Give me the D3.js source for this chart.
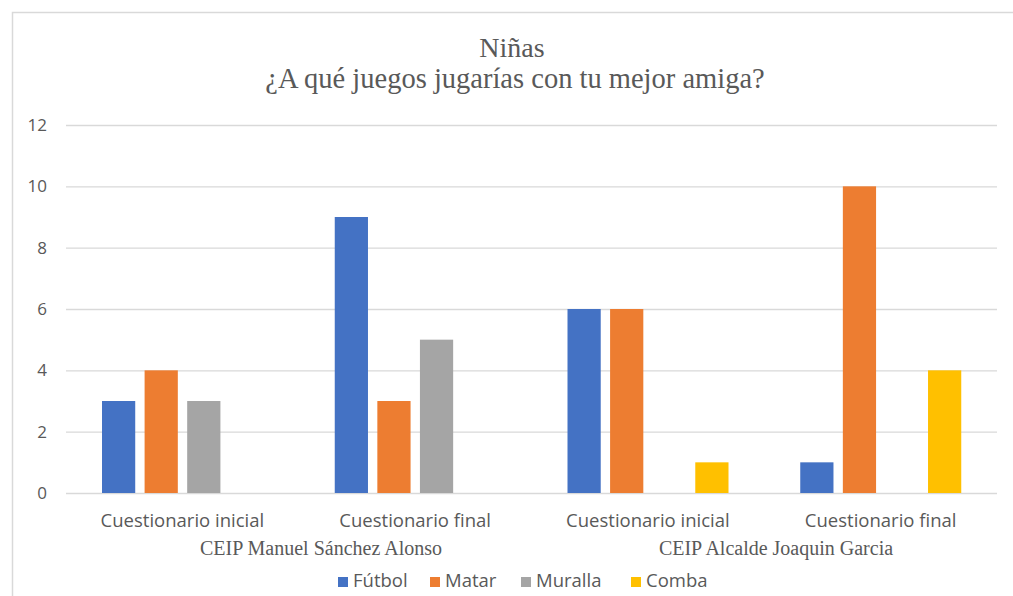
<!DOCTYPE html>
<html>
<head>
<meta charset="utf-8">
<script src="https://cdn.jsdelivr.net/npm/d3@7"></script>
<style>
  body { margin: 0; background: #fff; }
  text { fill: #595959; }
</style>
</head>
<body>
<svg id="chart" width="1013" height="596"></svg>
<script>
var categories = ["Cuestionario inicial", "Cuestionario final", "Cuestionario inicial", "Cuestionario final"];
var groupIds = ["g1", "g2", "g3", "g4"];
var schools = ["CEIP Manuel Sánchez Alonso", "CEIP Alcalde Joaquin Garcia"];
var series = ["Fútbol", "Matar", "Muralla", "Comba"];
var futbol = [3, 9, 6, 1];
var matar = [4, 3, 6, 10];
var muralla = [3, 5, 0, 0];
var comba = [0, 0, 1, 4];
var yTicks = [0, 2, 4, 6, 8, 10, 12];
var colors = ["#4472c4", "#ed7d31", "#a5a5a5", "#ffc000"];

var values = [futbol, matar, muralla, comba];

var plotLeft = 66,
    plotRight = 997,
    plotTop = 125,
    plotBottom = 493;

var svg = d3.select("#chart");

// chart area border
svg.append("rect")
    .attr("x", 12.5)
    .attr("y", 12.5)
    .attr("width", 1010)
    .attr("height", 600)
    .attr("fill", "none")
    .attr("stroke", "#d9d9d9")
    .attr("stroke-width", 1.5);

var x0 = d3.scaleBand().domain(groupIds).range([plotLeft, plotRight]);
var x1 = d3.scaleBand().domain(series).range([36, 197]).paddingInner(0.22);
var y = d3.scaleLinear().domain([0, 12]).range([plotBottom, plotTop]);
var color = d3.scaleOrdinal().domain(series).range(colors);

// grid lines
svg.append("g")
    .attr("transform", "translate(" + plotLeft + ",0)")
    .call(d3.axisLeft(y).tickValues(yTicks).tickSize(-(plotRight - plotLeft)).tickFormat(""))
    .call(g => g.select(".domain").remove())
    .call(g => g.selectAll("line").attr("stroke", "#d9d9d9").attr("stroke-width", 1.3));

// y labels
svg.append("g")
    .attr("transform", "translate(47,0)")
    .call(d3.axisLeft(y).tickValues(yTicks).tickSize(0).tickPadding(0))
    .call(g => g.select(".domain").remove())
    .call(g => g.selectAll("text")
        .attr("font-family", "Open Sans, sans-serif")
        .attr("font-size", 17)
        .attr("fill", "#595959"));

// bars
var groups = svg.append("g")
  .selectAll("g")
  .data(groupIds)
  .join("g")
    .attr("transform", d => "translate(" + x0(d) + ",0)");

groups.selectAll("rect")
  .data((d, i) => series.map((s, j) => ({ key: s, value: values[j][i] })))
  .join("rect")
    .filter(d => d.value > 0)
    .attr("x", d => x1(d.key))
    .attr("y", d => y(d.value))
    .attr("width", x1.bandwidth())
    .attr("height", d => y(0) - y(d.value))
    .attr("fill", d => color(d.key));

// category labels
svg.append("g")
    .attr("transform", "translate(0," + plotBottom + ")")
    .call(d3.axisBottom(x0).tickSize(0).tickPadding(0).tickFormat((d, i) => categories[i]))
    .call(g => g.select(".domain").remove())
    .call(g => g.selectAll("text")
        .attr("y", 34)
        .attr("dy", 0)
        .attr("font-family", "Open Sans, sans-serif")
        .attr("font-size", 18.5)
        .attr("fill", "#595959"));

// school labels
var schoolX = [321, 776];
svg.append("g")
  .selectAll("text")
  .data(schools)
  .join("text")
    .attr("x", (d, i) => schoolX[i])
    .attr("y", 555)
    .attr("text-anchor", "middle")
    .attr("font-family", "Liberation Serif, serif")
    .attr("font-size", 20)
    .attr("fill", "#7a7a7a")
    .text(d => d);

// title
svg.append("text")
    .attr("x", 512)
    .attr("y", 57)
    .attr("text-anchor", "middle")
    .attr("font-family", "Liberation Serif, serif")
    .attr("font-size", 28)
    .text("Niñas");

svg.append("text")
    .attr("x", 515)
    .attr("y", 88)
    .attr("text-anchor", "middle")
    .attr("font-family", "Liberation Serif, serif")
    .attr("font-size", 28.5)
    .text("¿A qué juegos jugarías con tu mejor amiga?");

// legend
var legendX = [338, 430, 521, 631];
var legend = svg.append("g")
  .selectAll("g")
  .data(series)
  .join("g")
    .attr("transform", (d, i) => "translate(" + legendX[i] + ",577)");

legend.append("rect")
    .attr("width", 10)
    .attr("height", 10)
    .attr("fill", d => color(d));

legend.append("text")
    .attr("x", 15)
    .attr("y", 10)
    .attr("font-family", "Open Sans, sans-serif")
    .attr("font-size", 18.5)
    .attr("fill", "#595959")
    .text(d => d);
</script>
</body>
</html>
